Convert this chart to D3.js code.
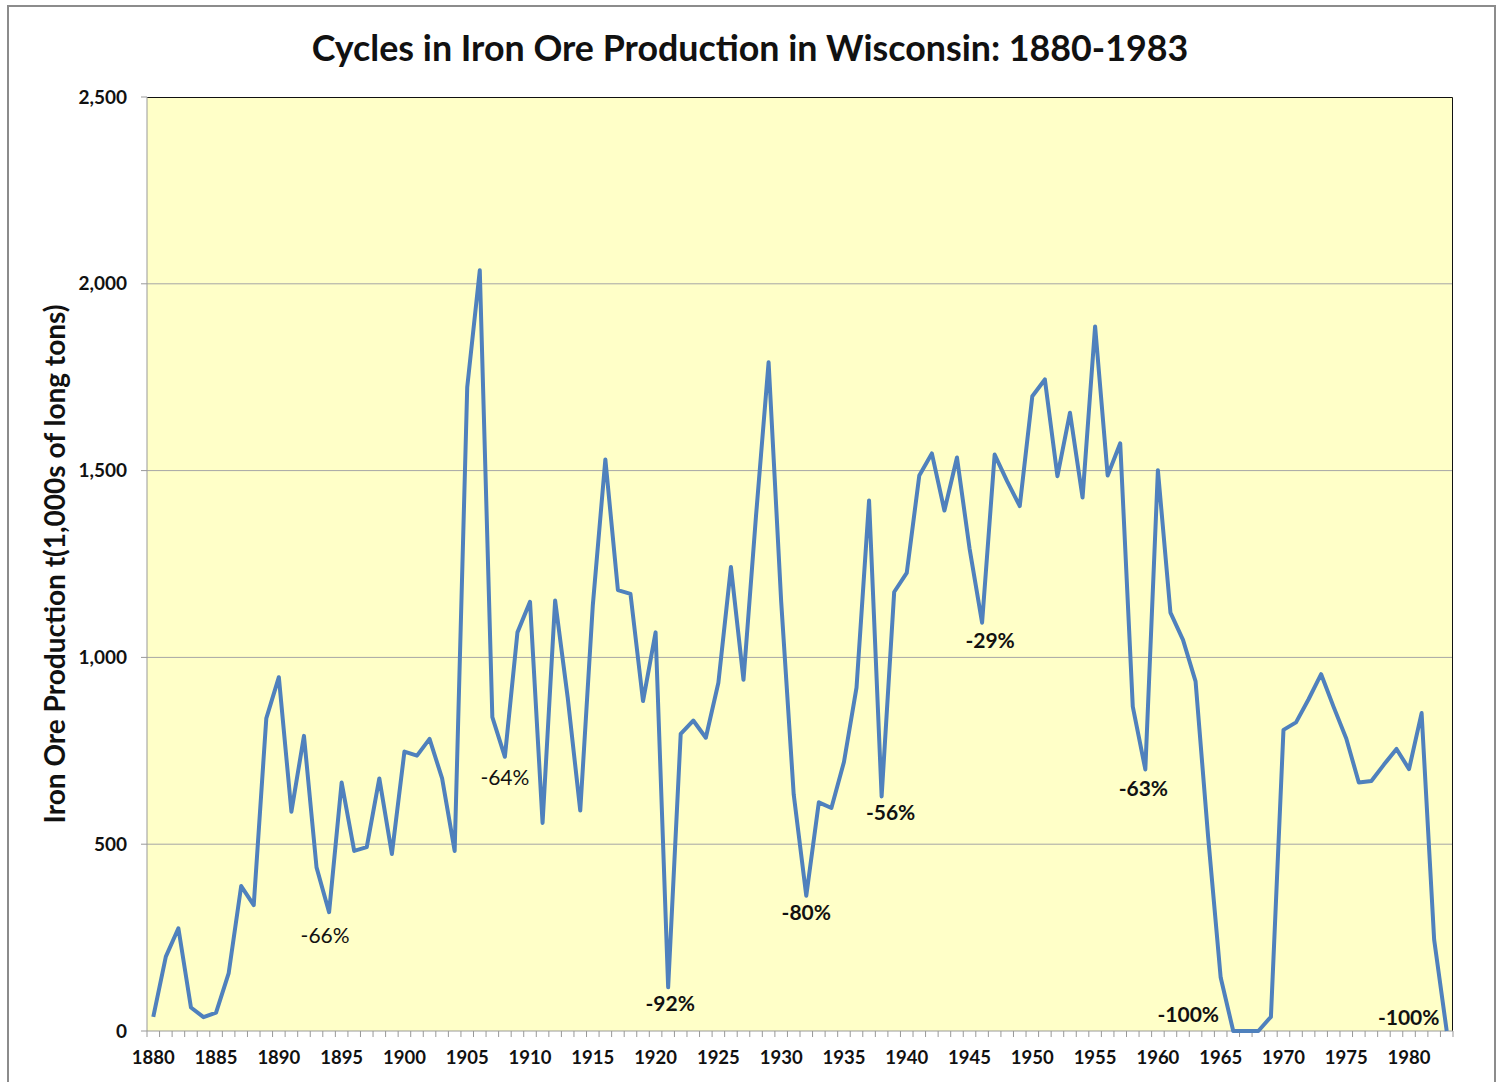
<!DOCTYPE html>
<html>
<head>
<meta charset="utf-8">
<script src="https://cdn.jsdelivr.net/npm/d3@7"></script>
<style>
  html, body { margin: 0; padding: 0; background: #fff; }
  svg { display: block; font-family: Lato, "Open Sans", sans-serif; }
</style>
</head>
<body>
<svg id="chart" width="1500" height="1082"></svg>
<script>
// years 1880..1983 and output in 1,000s of long tons
const years = d3.range(1880, 1984);
const production = [
  38, 199, 275, 63, 37, 49, 154, 388, 337, 837,
  947, 587, 790, 438, 318, 665, 482, 492, 676, 474,
  748, 737, 782, 676, 482, 1723, 2036, 840, 734, 1067,
  1149, 557, 1152, 893, 590, 1139, 1530, 1180, 1170, 883,
  1067, 117, 795, 831, 785, 932, 1242, 940, 1380, 1790,
  1150, 633, 362, 612, 597, 720, 919, 1420, 628, 1175,
  1226, 1487, 1546, 1393, 1535, 1292, 1093, 1543, 1471, 1405,
  1699, 1744, 1485, 1655, 1428, 1886, 1487, 1573, 868, 700,
  1501, 1120, 1047, 936, 520, 143, 0, 0, 0, 38,
  806, 826, 888, 955, 867, 783, 665, 669, 713, 755,
  701, 851, 244, 0
];
const yTicks = [0, 500, 1000, 1500, 2000, 2500];
const xLabelYears = d3.range(1880, 1984, 5);

// cycle troughs and their drop labels
const dropYears = [1894, 1908, 1921, 1932, 1938, 1946, 1959, 1966, 1983];
const dropLabels = ["-66%", "-64%", "-92%", "-80%", "-56%", "-29%", "-63%", "-100%", "-100%"];

const title = "Cycles in Iron Ore Production in Wisconsin: 1880-1983";
const yTitle = "Iron Ore Production t(1,000s of long tons)";

const margin = {left: 147, top: 97, right: 47, bottom: 51};
const W = 1500, H = 1082;
const iw = W - margin.left - margin.right,
  ih = H - margin.top - margin.bottom;

const svg = d3.select('#chart');

// outer chart frame
svg.append('rect')
  .attr('x', 8).attr('y', 6)
  .attr('width', 1487).attr('height', 1090)
  .attr('fill', '#fff')
  .attr('stroke', '#8c8c8c')
  .attr('stroke-width', 2);

const x = d3.scaleBand().domain(years).range([0, iw]).padding(0);
const y = d3.scaleLinear().domain([0, 2500]).range([ih, 0]);
const cx = yr => x(yr) + x.bandwidth() / 2;

const g = svg.append('g')
  .attr('transform', `translate(${margin.left},${margin.top})`);

g.append('rect')
  .attr('width', iw).attr('height', ih)
  .attr('fill', '#ffffc8');

// gridlines
g.selectAll('line.grid')
  .data(yTicks.filter(d => d > 0 && d < 2500))
  .join('line')
  .attr('class', 'grid')
  .attr('x1', 0).attr('x2', iw)
  .attr('y1', d => y(d)).attr('y2', d => y(d))
  .attr('stroke', '#a6a6a6')
  .attr('stroke-width', 1);

// top / right frame
g.append('path')
  .attr('d', `M0,0.5H${iw - 0.5}V${ih}`)
  .attr('fill', 'none')
  .attr('stroke', '#111')
  .attr('stroke-width', 1);

// y axis
let yAxis = g.append('g');
yAxis.append('line')
  .attr('x1', 0).attr('x2', 0).attr('y1', 0).attr('y2', ih)
  .attr('stroke', '#999');
yAxis.selectAll('line.tick')
  .data(yTicks)
  .join('line')
  .attr('class', 'tick')
  .attr('x1', -6).attr('x2', 0)
  .attr('y1', d => y(d)).attr('y2', d => y(d))
  .attr('stroke', '#999');
yAxis.selectAll('text')
  .data(yTicks)
  .join('text')
  .attr('x', -20)
  .attr('y', d => y(d))
  .attr('dy', '0.35em')
  .attr('text-anchor', 'end')
  .attr('font-size', 19)
  .attr('font-weight', 'bold')
  .attr('fill', '#111')
  .text(d3.format(','));

// x axis
let xAxis = g.append('g').attr('transform', `translate(0,${ih})`);
xAxis.append('line')
  .attr('x1', 0).attr('x2', iw)
  .attr('stroke', '#999');
xAxis.selectAll('line.tick')
  .data(years.concat([1984]))
  .join('line')
  .attr('class', 'tick')
  .attr('x1', d => d === 1984 ? iw : x(d))
  .attr('x2', d => d === 1984 ? iw : x(d))
  .attr('y1', 0).attr('y2', 6)
  .attr('stroke', '#999');
xAxis.selectAll('text')
  .data(xLabelYears)
  .join('text')
  .attr('x', d => cx(d))
  .attr('y', 27)
  .attr('dy', '0.35em')
  .attr('text-anchor', 'middle')
  .attr('font-size', 18.5)
  .attr('font-weight', 'bold')
  .attr('fill', '#111')
  .text(d => d);

// production line
const line = d3.line()
  .x((d, i) => cx(years[i]))
  .y(d => y(d));

g.append('path')
  .datum(production)
  .attr('d', line)
  .attr('fill', 'none')
  .attr('stroke', '#4f81bd')
  .attr('stroke-width', 4)
  .attr('stroke-linejoin', 'round');

// drop labels: offsets from the trough point, in px
const labelOffset = [[-4, 23], [0, 21], [2, 16], [0, 17], [9, 16], [8, 18], [-2, 19], [-45, -16], [-38, -13]];
const labelBold = [false, false, true, true, true, true, true, true, true];

g.selectAll('text.drop')
  .data(dropYears)
  .join('text')
  .attr('class', 'drop')
  .attr('x', (d, i) => cx(d) + labelOffset[i][0])
  .attr('y', (d, i) => y(production[years.indexOf(d)]) + labelOffset[i][1])
  .attr('dy', '0.35em')
  .attr('text-anchor', 'middle')
  .attr('font-size', 21)
  .attr('font-weight', (d, i) => labelBold[i] ? 'bold' : 'normal')
  .attr('fill', '#111')
  .text((d, i) => dropLabels[i]);

// titles
svg.append('text')
  .attr('x', 750).attr('y', 48)
  .attr('dy', '0.35em')
  .attr('text-anchor', 'middle')
  .attr('font-size', 35.8)
  .attr('font-weight', 'bold')
  .attr('fill', '#111')
  .text(title);

svg.append('text')
  .attr('transform', 'translate(55,564) rotate(-90)')
  .attr('dy', '0.35em')
  .attr('text-anchor', 'middle')
  .attr('font-size', 28)
  .attr('font-weight', 'bold')
  .attr('fill', '#111')
  .text(yTitle);
</script>
</body>
</html>
